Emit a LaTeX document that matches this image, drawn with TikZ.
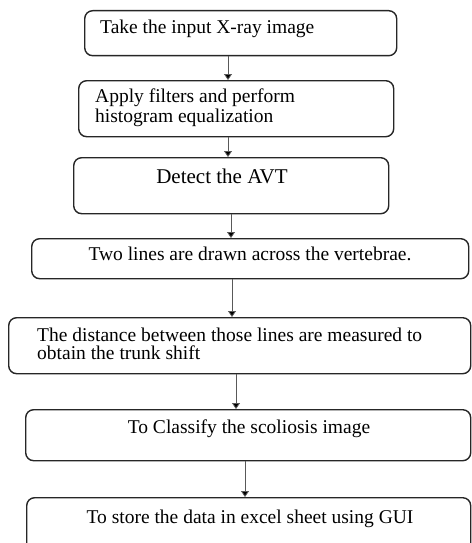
\documentclass[tikz,border=0pt]{standalone}
\usepackage{fontspec}
\setmainfont{Liberation Serif}
\usetikzlibrary{arrows.meta}
\tikzset{
  stepbox/.style={draw=black!85, line width=1.4pt, rounded corners=8pt,
    inner sep=0pt, anchor=north west},
  steptext/.style={inner sep=0pt, font=\fontsize{19.5}{20}\selectfont, text=black},
  flow/.style={draw=black!65, line width=0.8pt,
    -{Triangle[width=8pt,length=6pt,fill=black]}},
}
\begin{document}
\begin{tikzpicture}[x=1pt,y=-1pt]
\useasboundingbox (0,0) rectangle (471,543);

% process boxes
\node[stepbox, minimum width=312pt, minimum height=45pt] (b1) at (84,10) {};
\node[stepbox, minimum width=315pt, minimum height=56pt] (b2) at (78,80) {};
\node[stepbox, minimum width=315pt, minimum height=56pt] (b3) at (73,157) {};
\node[stepbox, minimum width=437pt, minimum height=40pt] (b4) at (31,238) {};
\node[stepbox, minimum width=462pt, minimum height=56pt] (b5) at (8,317) {};
\node[stepbox, minimum width=445pt, minimum height=51pt] (b6) at (25,409) {};
\node[stepbox, minimum width=444pt, minimum height=54pt] (b7) at (26,497) {};

% box texts
\node[steptext, anchor=base west] (t1) at (100,34) {Take the input X-ray image};
\node[steptext, anchor=west, align=left] (t2) at (95,108)
  {Apply filters and perform\\histogram equalization};
\node[steptext, anchor=base, font=\fontsize{21}{22}\selectfont] (t3) at (222,183) {Detect the AVT};
\node[steptext, anchor=base] (t4) at (250,260) {Two lines are drawn across the vertebrae.};
\node[steptext, anchor=west, align=left, font=\fontsize{19.5}{18}\selectfont] (t5) at (37,344)
  {The distance between those lines are measured to\\obtain the trunk shift};
\node[steptext, anchor=base] (t6) at (249,433) {To Classify the scoliosis image};
\node[steptext, anchor=base] (t7) at (250,523) {To store the data in excel sheet using GUI};

% arrow columns
\coordinate (x1) at (228,0);
\coordinate (x2) at (228,0);
\coordinate (x3) at (231,0);
\coordinate (x4) at (232,0);
\coordinate (x5) at (236,0);
\coordinate (x6) at (245,0);

% connectors
\draw[flow] (b1.south -| x1) -- (b2.north -| x1);
\draw[flow] (b2.south -| x2) -- (b3.north -| x2);
\draw[flow] (b3.south -| x3) -- (b4.north -| x3);
\draw[flow] (b4.south -| x4) -- (b5.north -| x4);
\draw[flow] (b5.south -| x5) -- (b6.north -| x5);
\draw[flow] (b6.south -| x6) -- (b7.north -| x6);
\end{tikzpicture}
\end{document}
